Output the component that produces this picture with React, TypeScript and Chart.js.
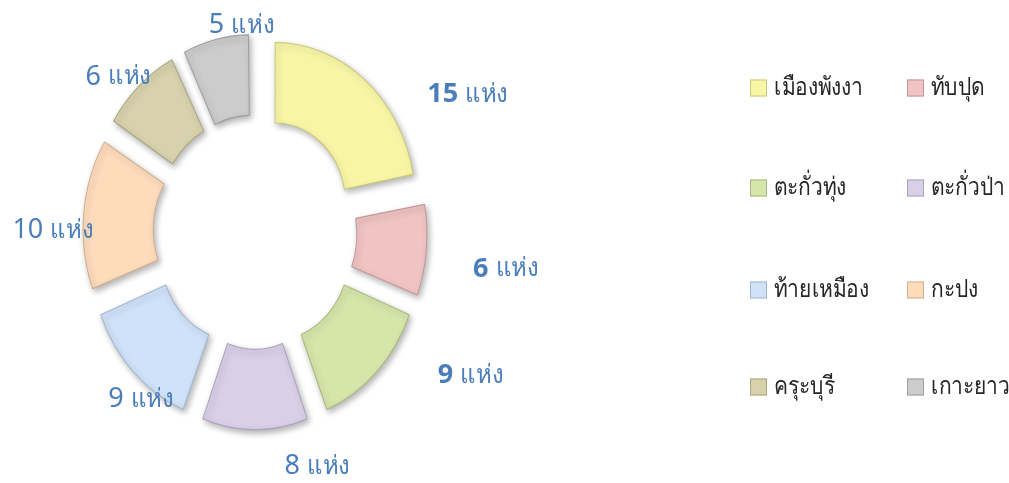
import React, { useEffect, useRef } from 'react';
import { Chart, registerables } from 'chart.js';

Chart.register(...registerables);

// ---- data ----
const categories = ['เมืองพังงา', 'ทับปุด', 'ตะกั่วทุ่ง', 'ตะกั่วป่า', 'ท้ายเหมือง', 'กะปง', 'ครุะบุรี', 'เกาะยาว'];
const values = [15, 6, 9, 8, 9, 10, 6, 5];
const unit = 'แห่ง';

// ---- styles ----
const colors = ['#F8F6A6', '#F0C4C3', '#D6E6AA', '#D9CFE7', '#D0E2F8', '#FDDCBC', '#D7D2AC', '#CCCCCC'];
const borders = ['#C9C77A', '#C29896', '#A9B87E', '#AEA3BE', '#A3B6CF', '#D2AF8E', '#ABA582', '#9E9E9E'];
const boldNumber = [true, true, true, false, false, false, false, false];
// label placement relative to each arc: angular shift (deg) and distance (px)
const labelShift = [21, 2, -15, -17, -7, -5, -3, 9];
const labelDist = [244, 253, 249, 213, 185, 202, 192, 180];

const Y_STRETCH = 1.15;
const EXPLODE = 32;
const LABEL_COLOR = '#4A7EBB';
const FONT = "'Noto Sans', 'DejaVu Sans', sans-serif";

const total = values.reduce((a, b) => a + b, 0);

export default function App() {
  const ref = useRef<HTMLCanvasElement | null>(null);

  useEffect(() => {
    const canvas = ref.current;
    if (!canvas) return;

    const stretchPlugin = {
      id: 'stretch',
      beforeDatasetsDraw(chart: any) {
        const meta = chart.getDatasetMeta(0);
        const el = meta.data[0];
        if (!el) return;
        const { x, y } = el.getProps(['x', 'y'], true);
        const ctx = chart.ctx;
        ctx.save();
        ctx.translate(x, y);
        ctx.scale(1, Y_STRETCH);
        ctx.translate(-x, -y);
        ctx.shadowColor = 'rgba(0,0,0,0.3)';
        ctx.shadowBlur = 6;
        ctx.shadowOffsetX = 2;
        ctx.shadowOffsetY = 3;
      },
      afterDatasetsDraw(chart: any) {
        chart.ctx.restore();
      },
    };

    const labelPlugin = {
      id: 'labels',
      afterDraw(chart: any) {
        const ctx = chart.ctx;
        const meta = chart.getDatasetMeta(0);
        ctx.save();
        ctx.textBaseline = 'middle';
        meta.data.forEach((el: any, i: number) => {
          const { x, y, startAngle, endAngle } = el.getProps(['x', 'y', 'startAngle', 'endAngle'], true);
          const a = (startAngle + endAngle) / 2 + (labelShift[i] * Math.PI) / 180;
          const px = x + Math.cos(a) * labelDist[i];
          const py = y + Math.sin(a) * labelDist[i] * Y_STRETCH;
          const num = String(values[i]);
          const numFont = `${boldNumber[i] ? 'bold ' : ''}27px ${FONT}`;
          const txtFont = `26px ${FONT}`;
          ctx.font = numFont;
          const wn = ctx.measureText(num + ' ').width;
          ctx.font = txtFont;
          const wt = ctx.measureText(unit).width * 0.92;
          const left = px - (wn + wt) / 2;
          ctx.fillStyle = LABEL_COLOR;
          ctx.textAlign = 'left';
          ctx.font = numFont;
          ctx.fillText(num, left, py);
          ctx.font = txtFont;
          ctx.fillText(unit, left + wn, py, wt);
        });

        // legend: 2 columns x 4 rows
        const colX = [750, 907];
        const rowY = [88, 188, 290, 387];
        const box = 17;
        ctx.font = `25px ${FONT}`;
        ctx.textBaseline = 'middle';
        categories.forEach((name, i) => {
          const bx = colX[i % 2];
          const by = rowY[Math.floor(i / 2)];
          const g = ctx.createLinearGradient(bx, by - box / 2, bx + box, by + box / 2);
          g.addColorStop(0, '#ffffff');
          g.addColorStop(0.35, colors[i]);
          g.addColorStop(1, borders[i]);
          ctx.fillStyle = colors[i];
          ctx.fillRect(bx, by - box / 2, box, box);
          ctx.strokeStyle = borders[i];
          ctx.lineWidth = 1;
          ctx.strokeRect(bx + 0.5, by - box / 2 + 0.5, box - 1, box - 1);
          ctx.fillStyle = '#262626';
          ctx.textAlign = 'left';
          const w = ctx.measureText(name).width * 0.84;
          ctx.fillText(name, bx + box + 7, by, w);
        });
        ctx.restore();
      },
    };

    const chart = new Chart(canvas, {
      type: 'doughnut',
      data: {
        labels: categories,
        datasets: [
          {
            data: values,
            backgroundColor: colors,
            borderColor: borders,
            borderWidth: 1,
            clip: false as any,
            offset: (c: any) => {
              const v = values[c.dataIndex] ?? 0;
              const circ = (v / total) * Math.PI * 2;
              const fix = 1 - Math.sin(Math.min(Math.PI, circ));
              return (4 * EXPLODE) / (1 + fix);
            },
          } as any,
        ],
      },
      options: {
        animation: false,
        responsive: true,
        maintainAspectRatio: false,
        radius: 140,
        cutout: '50%',
        layout: { padding: { left: 0, right: 499, top: 0, bottom: 19 } },
        plugins: {
          legend: { display: false },
          tooltip: { enabled: false },
        },
        events: [],
      } as any,
      plugins: [stretchPlugin, labelPlugin],
    });

    return () => chart.destroy();
  }, []);

  return (
    <div style={{ position: 'fixed', left: 0, top: 0, width: 1009, height: 483, background: '#fff' }}>
      <canvas ref={ref} />
    </div>
  );
}
